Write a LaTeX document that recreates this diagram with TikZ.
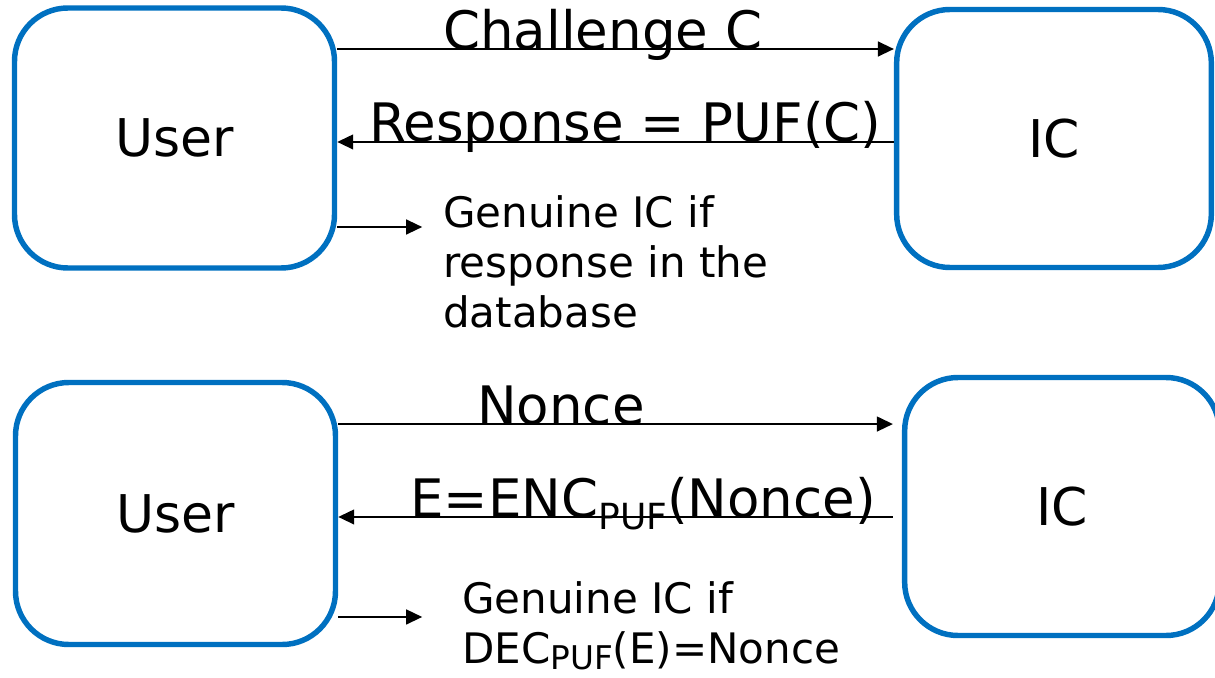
\documentclass[tikz,border=0pt]{standalone}
\usepackage{fontspec}
\setmainfont{DejaVu Sans}
\usetikzlibrary{arrows.meta,calc}
\definecolor{boxblue}{RGB}{0,112,192}
\begin{document}
\begin{tikzpicture}[x=0.75pt,y=-0.75pt,
  box/.style={draw=boxblue,line width=4.1pt,rounded corners=40pt,inner sep=0pt,
              font=\fontsize{39}{47}\selectfont},
  arr/.style={line width=1.7pt,-{Triangle[length=12pt,width=11pt]}},
  big/.style={inner sep=0pt,anchor=base west,font=\fontsize{39.75}{48}\selectfont},
  note/.style={inner sep=0pt,anchor=north west,align=left,font=\fontsize{31.5}{37.5}\selectfont}]
\useasboundingbox (0,0) rectangle (1215,678);
% boxes
\node[box,minimum width=240pt,minimum height=195pt] (u1) at (174.5,138) {User};
\node[box,minimum width=236pt,minimum height=193.5pt] (ic1) at (1054,138.5) {IC};
\node[box,minimum width=240pt,minimum height=196.5pt] (u2) at (175.5,513.5) {User};
\node[box,minimum width=236pt,minimum height=193.5pt] (ic2) at (1062,506.5) {IC};
% top connectors
\coordinate (a1) at ([yshift=66.75pt]u1.east);
\draw[arr] (a1) -- (a1 -| ic1.west);
\coordinate (a2) at ([yshift=-2.6pt]ic1.west);
\draw[arr] (a2) -- (a2 -| u1.east);
\coordinate (a3) at ([yshift=-66.75pt]u1.east);
\coordinate (g1) at ([xshift=63.75pt]a3);
\draw[arr] (a3) -- (g1);
% bottom connectors
\coordinate (a4) at ([yshift=67.1pt]u2.east);
\coordinate (n4) at ($(a4 -| ic2.west)+(-9,0)$);
\draw[arr] (a4) -- (n4);
\coordinate (a5) at ([yshift=-2.6pt]u2.east);
\coordinate (n5) at ($(a5 -| ic2.west)+(-9,0)$);
\draw[arr] (n5) -- (a5);
\coordinate (a6) at ([yshift=-77.6pt]u2.east);
\coordinate (g2) at ([xshift=63pt]a6);
\draw[arr] (a6) -- (g2);
% labels
\node[big] (t1) at (443,50) {Challenge C};
\node[big] (t2) at (369,141) {Response = PUF(C)};
\node[note] (t3) at (443,195) {Genuine IC if\\response in the\\database};
\node[big] (t4) at (477,424) {Nonce};
\node[big] (t5) at (410,517) {E=ENC\raisebox{-9pt}{\fontsize{27}{30}\selectfont PUF}(Nonce)};
\node[note] (t6) at (462,581) {Genuine IC if\\DEC\raisebox{-5pt}{\fontsize{24.5}{28}\selectfont PUF}(E)=Nonce};
\end{tikzpicture}
\end{document}
